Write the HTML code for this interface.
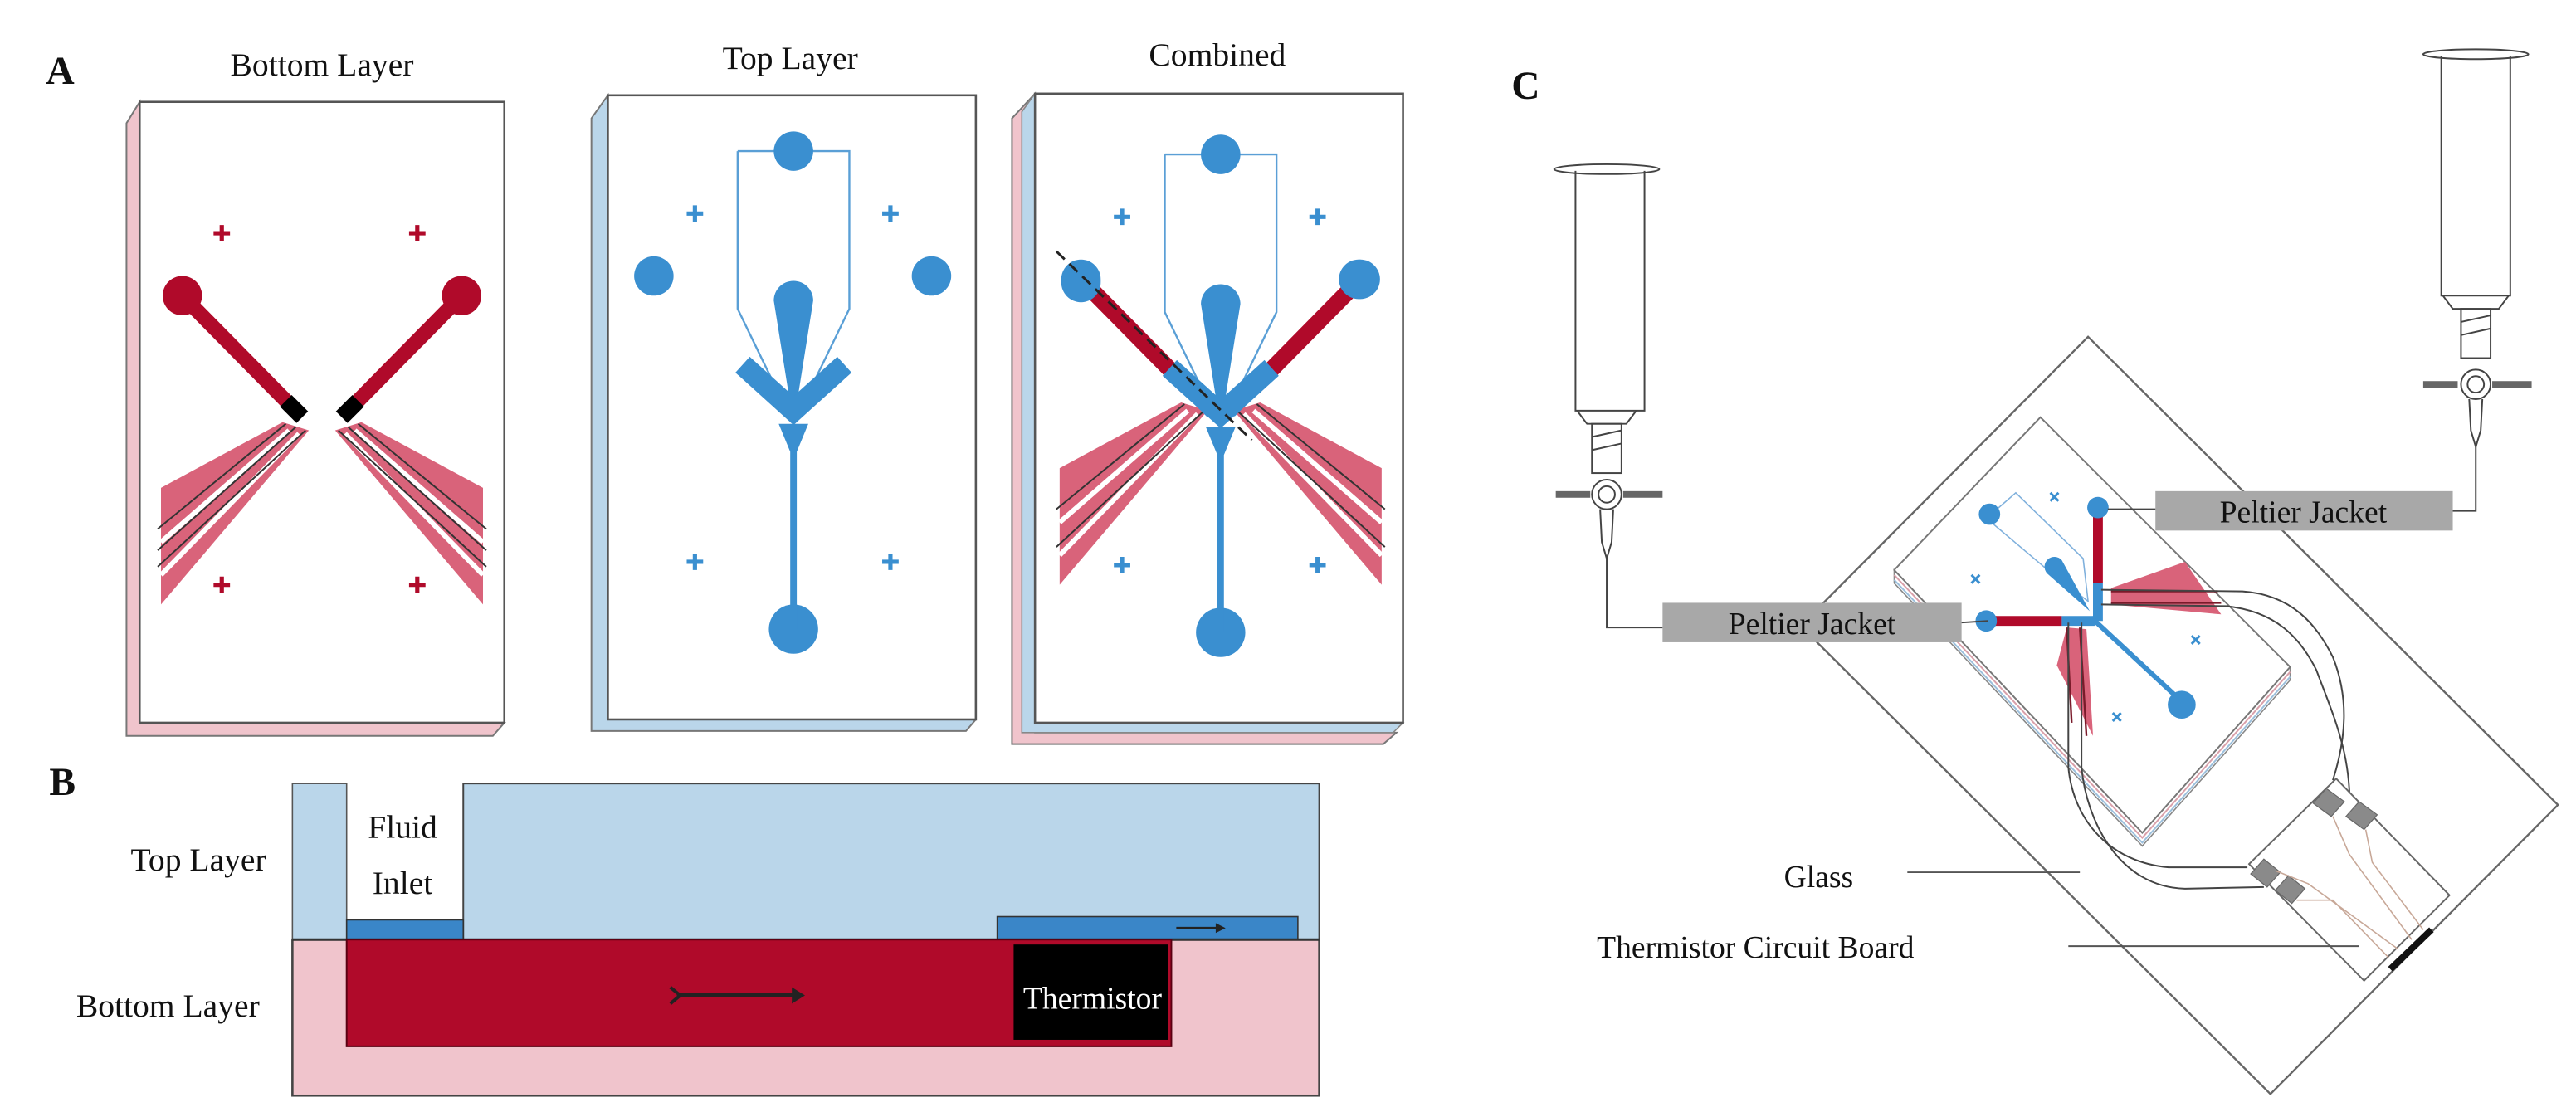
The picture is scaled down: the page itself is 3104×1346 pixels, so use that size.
<!DOCTYPE html>
<html><head><meta charset="utf-8"><style>
html,body{margin:0;padding:0;background:#fff;}
svg{display:block;}
text{font-family:"Liberation Serif",serif;fill:#111;}
</style></head><body>
<svg width="3104" height="1346" viewBox="0 0 1568 680" preserveAspectRatio="none" xmlns="http://www.w3.org/2000/svg">
<defs>
<g id="rcross"><path d="M-5,0H5M0,-5V5" stroke-width="2.6"/></g>
</defs>
<!-- ===== A ===== -->
<text x="28" y="51" font-size="24" font-weight="bold">A</text>
<text x="196" y="46" font-size="20" text-anchor="middle">Bottom Layer</text>
<text x="481" y="42" font-size="20" text-anchor="middle">Top Layer</text>
<text x="741" y="40" font-size="20" text-anchor="middle">Combined</text>

<!-- Bottom layer panel -->
<polygon points="85,62 77,75 77,448 300,448 307,440 85,440" fill="#f0c4cc" stroke="#777" stroke-width="1"/>
<rect x="85" y="62" width="222" height="378" fill="#fff" stroke="#555" stroke-width="1.3"/>
<g stroke="#b00a2a"><use href="#rcross" x="135" y="142"/><use href="#rcross" x="254" y="142"/><use href="#rcross" x="135" y="356"/><use href="#rcross" x="254" y="356"/></g>
<g id="bfan">
<polygon points="172,257 98,297 98,368 188,262" fill="#d9637a"/>
<path d="M176,262 L98,330 M182,264 L98,350" stroke="#fff" stroke-width="3"/>
<path d="M174,258 L96,322 M186,262 L96,345 M180,260 L96,335" stroke="#333" stroke-width="1"/>
<line x1="111" y1="180" x2="180" y2="250" stroke="#b00a2a" stroke-width="9"/>
<circle cx="111" cy="180" r="12" fill="#b00a2a"/>
<line x1="174" y1="244" x2="184" y2="254" stroke="#000" stroke-width="10"/>
</g>
<use href="#bfan" transform="translate(392,0) scale(-1,1)"/>

<!-- Top layer panel -->
<polygon points="370,58 360,72 360,445 588,445 594,438 370,438" fill="#bad6ea" stroke="#777" stroke-width="1"/>
<rect x="370" y="58" width="224" height="380" fill="#fff" stroke="#555" stroke-width="1.3"/>
<g id="tchan">
<path d="M449,92 H517 V188 L486,252 M449,92 V188 L480,252" fill="none" stroke="#5a9fd6" stroke-width="1.2"/>
<circle cx="483" cy="92" r="12" fill="#3a8fd0"/>
<circle cx="398" cy="168" r="12" fill="#3a8fd0"/>
<circle cx="567" cy="168" r="12" fill="#3a8fd0"/>
<circle cx="483" cy="383" r="15" fill="#3a8fd0"/>
<path d="M471,183 A12,12 0 0 1 495,183 L484,252 L482,252 Z" fill="#3a8fd0"/>
<path d="M452,222 L483,250 L514,222" fill="none" stroke="#3a8fd0" stroke-width="13" stroke-linejoin="miter"/>
<polygon points="474,258 492,258 485,275 485,383 481,383 481,275" fill="#3a8fd0"/>
<g stroke="#3a8fd0"><use href="#rcross" x="423" y="130"/><use href="#rcross" x="542" y="130"/><use href="#rcross" x="423" y="342"/><use href="#rcross" x="542" y="342"/></g>
</g>

<!-- Combined panel -->
<polygon points="630,57 616,72 616,453 842,453 850,446 630,446" fill="#f0c4cc" stroke="#777" stroke-width="1"/>
<polygon points="630,57 622,68 622,446 848,446 854,440 630,440" fill="#bad6ea" stroke="#888" stroke-width="0.8"/>
<rect x="630" y="57" width="224" height="383" fill="#fff" stroke="#555" stroke-width="1.3"/>
<g transform="translate(547,-12)">
<polygon points="172,257 98,297 98,368 188,262" fill="#d9637a"/>
<path d="M176,262 L98,330 M182,264 L98,350" stroke="#fff" stroke-width="3"/>
<path d="M174,258 L96,322 M186,262 L96,345" stroke="#333" stroke-width="1"/>
<g transform="translate(392,0) scale(-1,1)">
<polygon points="172,257 98,297 98,368 188,262" fill="#d9637a"/>
<path d="M176,262 L98,330 M182,264 L98,350" stroke="#fff" stroke-width="3"/>
<path d="M174,258 L96,322 M186,262 L96,345" stroke="#333" stroke-width="1"/>
</g>
<line x1="111" y1="182" x2="176" y2="248" stroke="#b00a2a" stroke-width="10"/>
<line x1="281" y1="182" x2="216" y2="248" stroke="#b00a2a" stroke-width="10"/>
</g>
<g transform="translate(260,2)"><use href="#tchan"/></g>
<line x1="720" y1="232" x2="738" y2="250" stroke="#3a8fd0" stroke-width="10"/>
<line x1="766" y1="232" x2="748" y2="250" stroke="#3a8fd0" stroke-width="10"/>
<circle cx="658" cy="172" r="12" fill="#3a8fd0"/><circle cx="828" cy="170" r="12" fill="#3a8fd0"/>
<line x1="643" y1="153" x2="762" y2="268" stroke="#222" stroke-width="1.5" stroke-dasharray="7,4"/>

<!-- ===== B ===== -->
<text x="30" y="484" font-size="24" font-weight="bold">B</text>
<rect x="178" y="572" width="625" height="95" fill="#f0c4cc" stroke="#444" stroke-width="1.3"/>
<rect x="282" y="477" width="521" height="95" fill="#bad6ea" stroke="#444" stroke-width="1"/>
<rect x="178" y="477" width="33" height="95" fill="#bad6ea" stroke="#555" stroke-width="0.8"/>
<rect x="211" y="560" width="71" height="12" fill="#3a86c8" stroke="#333" stroke-width="0.8"/>
<rect x="607" y="558" width="183" height="14" fill="#3a86c8" stroke="#333" stroke-width="0.8"/>
<line x1="178" y1="572" x2="803" y2="572" stroke="#333" stroke-width="1.5"/>
<rect x="211" y="572" width="502" height="65" fill="#b00a2a" stroke="#5a0012" stroke-width="1"/>
<rect x="617" y="575" width="94" height="58" fill="#000"/>
<text x="665" y="614" font-size="19" text-anchor="middle" style="fill:#fff">Thermistor</text>
<path d="M412,606 H486" stroke="#222" stroke-width="2.5"/><path d="M482,601 L490,606 L482,611 Z" fill="#222"/>
<path d="M408,601 L414,606 L408,611" fill="none" stroke="#222" stroke-width="2"/>
<path d="M716,565 H742" stroke="#222" stroke-width="1.5"/><path d="M740,562 L746,565 L740,568Z" fill="#222"/>
<text x="245" y="510" font-size="20" text-anchor="middle">Fluid</text>
<text x="245" y="544" font-size="20" text-anchor="middle">Inlet</text>
<text x="162" y="530" font-size="20" text-anchor="end">Top Layer</text>
<text x="158" y="619" font-size="20" text-anchor="end">Bottom Layer</text>

<!-- ===== C ===== -->
<text x="920" y="60" font-size="24" font-weight="bold">C</text>
<polygon points="1271,205 1557,490 1382,666 1096,381" fill="none" stroke="#666" stroke-width="1.2"/>
<polygon points="1153,355 1304,515 1394,414 1394,406 1304,507 1153,347" fill="#fff" stroke="#888" stroke-width="0.8"/>
<path d="M1153,350 L1304,510 L1394,409" fill="none" stroke="#d9a0aa" stroke-width="1"/>
<path d="M1153,353 L1304,513 L1394,412" fill="none" stroke="#9bbfdc" stroke-width="1"/>
<polygon points="1242,254 1394,406 1304,507 1153,347" fill="#fff" stroke="#777" stroke-width="1"/>
<path d="M1212,313 L1227,300 L1268,340 L1271,366 L1250,350 L1205,312" fill="none" stroke="#7fb0dc" stroke-width="0.8"/>
<polygon points="1285,358 1330,342 1352,374 1285,368" fill="#d9637a"/>
<polygon points="1258,382 1270,383 1274,448 1252,405" fill="#d9637a"/>
<path d="M1285,360 H1350 M1285,367 H1352" stroke="#7a1a2a" stroke-width="1.2"/>
<path d="M1258,382 L1261,440 M1266,382 L1270,448" stroke="#7a1a2a" stroke-width="1.2"/>
<line x1="1277" y1="310" x2="1277" y2="355" stroke="#b00a2a" stroke-width="6"/>
<line x1="1210" y1="378" x2="1255" y2="378" stroke="#b00a2a" stroke-width="6"/>
<path d="M1255,378 H1275 M1277,355 V378" stroke="#3a8fd0" stroke-width="6"/>
<line x1="1273" y1="376" x2="1329" y2="428" stroke="#3a8fd0" stroke-width="3"/>
<circle cx="1211" cy="313" r="6.5" fill="#3a8fd0"/>
<circle cx="1277" cy="309" r="6.5" fill="#3a8fd0"/>
<circle cx="1209" cy="378" r="6.5" fill="#3a8fd0"/>
<circle cx="1328" cy="429" r="8.5" fill="#3a8fd0"/>
<path d="M1246,349 A6,6 0 0 1 1255,341 L1272,372 Z" fill="#3a8fd0"/>
<g stroke="#3a8fd0" stroke-width="1.5"><path d="M1248,300 l5,5 m0,-5 l-5,5"/><path d="M1200,350 l5,5 m0,-5 l-5,5"/><path d="M1334,387 l5,5 m0,-5 l-5,5"/><path d="M1286,434 l5,5 m0,-5 l-5,5"/></g>
<g fill="none" stroke="#444" stroke-width="1">
<path d="M1279,359 L1365,360 C1395,362 1410,380 1420,400 C1430,425 1428,450 1420,475"/>
<path d="M1279,368 L1355,369 C1385,372 1400,388 1410,408 C1420,435 1432,460 1430,496"/>
<path d="M1259,379 L1259,467 C1262,500 1285,525 1320,528 L1368,528"/>
<path d="M1267,379 L1267,467 C1270,500 1290,540 1330,541 L1378,540"/>
</g>
<polygon points="1422,474 1491,545 1439,597 1369,526" fill="#fff" stroke="#666" stroke-width="1"/>
<g fill="#8a8a8a" stroke="#666" stroke-width="0.6">
<polygon points="1416,480 1427,488 1419,497 1408,489"/>
<polygon points="1436,488 1447,496 1439,505 1428,497"/>
<polygon points="1378,523 1388,531 1380,540 1370,532"/>
<polygon points="1393,533 1403,541 1395,550 1385,542"/>
</g>
<g fill="none" stroke="#c8a898" stroke-width="0.8">
<path d="M1420,497 L1430,520 L1468,572"/>
<path d="M1440,505 L1444,525 L1475,566"/>
<path d="M1385,530 L1405,538 L1460,578"/>
<path d="M1398,548 L1420,548 L1454,583"/>
</g>
<line x1="1455" y1="590" x2="1480" y2="566" stroke="#111" stroke-width="4"/>
<text x="1107" y="540" font-size="19" text-anchor="middle">Glass</text>
<line x1="1161" y1="531" x2="1266" y2="531" stroke="#555" stroke-width="1"/>
<text x="972" y="583" font-size="19">Thermistor Circuit Board</text>
<line x1="1259" y1="576" x2="1436" y2="576" stroke="#555" stroke-width="1"/>
<g fill="none" stroke="#444" stroke-width="1">
<ellipse cx="978" cy="103" rx="32" ry="3"/>
<path d="M959,104 V250 H1001 V104"/>
<path d="M960,250 L966,258 H990 L996,250"/>
<rect x="969" y="258" width="18" height="30"/>
<line x1="969" y1="266" x2="987" y2="262"/><line x1="969" y1="274" x2="987" y2="270"/>
<circle cx="978" cy="301" r="9" fill="#fff"/><circle cx="978" cy="301" r="5"/>
<path d="M974,310 L975,330 L978,340 L981,330 L982,310"/>
<path d="M978,340 V382 H1012"/>
</g>
<rect x="947" y="299" width="21" height="4" fill="#666"/><rect x="988" y="299" width="24" height="4" fill="#666"/>
<rect x="1012" y="367" width="182" height="24" fill="#a8a8a8"/>
<text x="1103" y="386" font-size="19" text-anchor="middle">Peltier Jacket</text>
<line x1="1194" y1="379" x2="1210" y2="378" stroke="#444" stroke-width="1"/>
<g fill="none" stroke="#444" stroke-width="1">
<ellipse cx="1507" cy="33" rx="32" ry="3"/>
<path d="M1486,34 V180 H1528 V34"/>
<path d="M1487,180 L1493,188 H1521 L1527,180"/>
<rect x="1498" y="188" width="18" height="30"/>
<line x1="1498" y1="196" x2="1516" y2="192"/><line x1="1498" y1="204" x2="1516" y2="200"/>
<circle cx="1507" cy="234" r="9" fill="#fff"/><circle cx="1507" cy="234" r="5"/>
<path d="M1503,243 L1504,262 L1507,272 L1510,262 L1511,243"/>
<path d="M1507,272 V311 H1493"/>
</g>
<rect x="1475" y="232" width="21" height="4" fill="#666"/><rect x="1517" y="232" width="24" height="4" fill="#666"/>
<rect x="1312" y="299" width="181" height="24" fill="#a8a8a8"/>
<text x="1402" y="318" font-size="19" text-anchor="middle">Peltier Jacket</text>
<line x1="1283" y1="310" x2="1312" y2="310" stroke="#444" stroke-width="1"/>
</svg>
</body></html>
